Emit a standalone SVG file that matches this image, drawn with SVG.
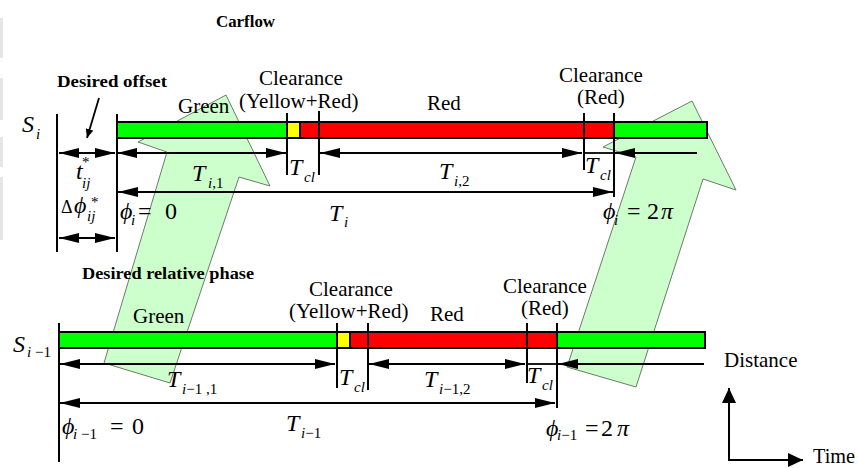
<svg xmlns="http://www.w3.org/2000/svg" width="858" height="468" viewBox="0 0 858 468">
<defs>
<marker id="ah" markerUnits="userSpaceOnUse" markerWidth="20" markerHeight="10" refX="20" refY="5" orient="auto-start-reverse"><path d="M0,0 L20,5 L0,10 z" fill="#000"/></marker>
<marker id="ax" markerUnits="userSpaceOnUse" markerWidth="15" markerHeight="14" refX="15" refY="7" orient="auto-start-reverse"><path d="M0,0 L15,7 L0,14 z" fill="#000"/></marker>
<marker id="sm" markerUnits="userSpaceOnUse" markerWidth="9" markerHeight="8" refX="9" refY="4" orient="auto"><path d="M0,0 L9,4 L0,8 z" fill="#000"/></marker>
<style>
.t{font-family:"Liberation Serif","Times New Roman","DejaVu Serif",serif;font-size:21px;fill:#000}
.b{font-family:"Liberation Serif","Times New Roman","DejaVu Serif",serif;font-size:16px;font-weight:bold;fill:#000}
.m{font-family:"Liberation Serif","Times New Roman","DejaVu Serif",serif;font-size:24px;font-style:italic;fill:#000}
.s{font-size:15px}
.u{font-style:normal}
.big{fill:#ccffcc;stroke:#6b7b6b;stroke-width:1}
.bar{stroke:#000;stroke-width:2}
.g{fill:#00ff00}.y{fill:#ffff00}.r{fill:#ff0000}
.tk{stroke:#000;stroke-width:2;fill:none}
.dl{stroke:#000;stroke-width:1.8;fill:none}
.both{marker-start:url(#ah);marker-end:url(#ah)}
.st{marker-start:url(#ah)}
.gs{fill:#e6e6e6}
</style>
</defs>
<rect width="858" height="468" fill="#fff"/>
<g id="edge-stripes">
<rect class="gs" x="0" y="18" width="3" height="40"/>
<rect class="gs" x="0" y="78" width="3" height="42"/>
<rect class="gs" x="0" y="137" width="3" height="30"/>
<rect class="gs" x="0" y="177" width="3" height="63"/>
</g>
<g id="flow-arrow-left"><polygon class="big" points="226,95 270,186 239,177 170,383 104,363 167,152 138,142"/></g>
<g id="flow-arrow-right"><polygon class="big" points="692,101 736,190 703,179 636,387 567,367 636,157 603,147"/></g>

<g id="signal-i">
<rect class="g" x="117" y="122" width="170" height="16"/>
<rect class="y" x="287" y="122" width="13" height="16"/>
<rect class="r" x="300" y="122" width="315" height="16"/>
<rect class="g" x="615" y="122" width="92" height="16"/>
<line class="bar" x1="300" y1="122" x2="300" y2="138" stroke-width="1.5"/>
<rect class="bar" x="117" y="122" width="590" height="16" fill="none"/>
</g>
<g id="signal-i-1">
<rect class="g" x="59" y="332" width="278" height="16"/>
<rect class="y" x="337" y="332" width="13" height="16"/>
<rect class="r" x="350" y="332" width="207" height="16"/>
<rect class="g" x="557" y="332" width="148" height="16"/>
<line class="bar" x1="350" y1="332" x2="350" y2="348" stroke-width="1.5"/>
<rect class="bar" x="59" y="332" width="646" height="16" fill="none"/>
</g>

<g id="ticks">
<line class="tk" x1="57" y1="114" x2="57" y2="252"/>
<line class="tk" x1="117" y1="114" x2="117" y2="252"/>
<line class="tk" x1="287" y1="113" x2="287" y2="175"/>
<line class="tk" x1="319" y1="111" x2="319" y2="175"/>
<line class="tk" x1="584" y1="113" x2="584" y2="170"/>
<line class="tk" x1="614" y1="113" x2="614" y2="197"/>
<line class="tk" x1="59" y1="323" x2="59" y2="462"/>
<line class="tk" x1="337" y1="323" x2="337" y2="388"/>
<line class="tk" x1="368" y1="323" x2="368" y2="390"/>
<line class="tk" x1="527" y1="323" x2="527" y2="383"/>
<line class="tk" x1="557" y1="323" x2="557" y2="408"/>
</g>

<g id="connectors">
<line class="dl both" x1="59" y1="153" x2="115" y2="153"/>
<line class="dl both" x1="117" y1="153" x2="286" y2="153"/>
<line class="dl both" x1="320" y1="153" x2="582" y2="153"/>
<line class="dl" x1="584" y1="153" x2="614" y2="153"/>
<line class="dl st" x1="615" y1="153" x2="697" y2="153"/>
<line class="dl both" x1="118" y1="192" x2="613" y2="192"/>
<line class="dl both" x1="59" y1="238" x2="115" y2="238"/>
<line class="dl both" x1="60" y1="364" x2="335" y2="364"/>
<line class="dl both" x1="369" y1="364" x2="525" y2="364"/>
<line class="dl" x1="527" y1="364" x2="557" y2="364"/>
<line class="dl st" x1="558" y1="364" x2="704" y2="364"/>
<line class="dl both" x1="60" y1="403" x2="555" y2="403"/>
<line class="dl" x1="99" y1="98" x2="87" y2="138" marker-end="url(#sm)" stroke-width="1.2"/>
<line class="tk" x1="729" y1="461" x2="729" y2="388" marker-end="url(#ax)"/>
<line class="tk" x1="728" y1="460" x2="803" y2="460" marker-end="url(#ax)"/>
</g>

<g id="labels">
<text class="b" x="216" y="27" textLength="59" lengthAdjust="spacingAndGlyphs">Carflow</text>
<text class="b" x="57" y="87" textLength="110" lengthAdjust="spacingAndGlyphs">Desired offset</text>
<text class="b" x="82" y="279" textLength="172" lengthAdjust="spacingAndGlyphs">Desired relative phase</text>

<text class="t" x="178" y="113">Green</text>
<text class="t" x="259" y="85">Clearance</text>
<text class="t" x="239" y="108">(Yellow+Red)</text>
<text class="t" x="427" y="110">Red</text>
<text class="t" x="559" y="82">Clearance</text>
<text class="t" x="577" y="104">(Red)</text>

<text class="t" x="133" y="323">Green</text>
<text class="t" x="309" y="296">Clearance</text>
<text class="t" x="289" y="318">(Yellow+Red)</text>
<text class="t" x="430" y="321">Red</text>
<text class="t" x="503" y="293">Clearance</text>
<text class="t" x="521" y="315">(Red)</text>
<text class="t" x="724" y="367">Distance</text>
<text class="t" x="813" y="463" textLength="42" lengthAdjust="spacingAndGlyphs">Time</text>

<text class="m" x="22" y="132">S<tspan class="s" x="36" y="139">i</tspan></text>
<text class="m" x="76" y="179">t<tspan class="s u" x="82" y="167">*</tspan><tspan class="s" x="82" y="188">ij</tspan></text>
<text class="m" x="61" y="213"><tspan class="u" style="font-size:18px">Δ</tspan><tspan x="74" y="213">ϕ</tspan><tspan class="s u" x="91" y="207">*</tspan><tspan class="s" x="87" y="221">ij</tspan></text>
<text class="m" x="120" y="219">ϕ<tspan class="s" x="131" y="225">i</tspan><tspan class="u" x="138" y="219">=</tspan><tspan class="u" x="165" y="219">0</tspan></text>
<text class="m" x="192" y="181">T<tspan class="s" x="208" y="188">i<tspan class="u">,1</tspan></tspan></text>
<text class="m" x="289" y="175">T<tspan class="s" x="304" y="182">cl</tspan></text>
<text class="m" x="439" y="179">T<tspan class="s" x="454" y="186">i<tspan class="u">,2</tspan></tspan></text>
<text class="m" x="585" y="173">T<tspan class="s" x="600" y="180">cl</tspan></text>
<text class="m" x="329" y="221">T<tspan class="s" x="344" y="227">i</tspan></text>
<text class="m" x="603" y="219">ϕ<tspan class="s" x="614" y="225">i</tspan><tspan class="u" x="627" y="219">=</tspan><tspan class="u" x="647" y="219">2</tspan><tspan x="661" y="219">π</tspan></text>

<text class="m" x="13" y="352">S<tspan class="s" x="27" y="357">i<tspan class="u"> −1</tspan></tspan></text>
<text class="m" x="167" y="387">T<tspan class="s" x="182" y="394">i<tspan class="u">−1 ,1</tspan></tspan></text>
<text class="m" x="62" y="434">ϕ<tspan class="s" x="73" y="439">i<tspan class="u"> −1</tspan></tspan><tspan class="u" x="110" y="434">=</tspan><tspan class="u" x="132" y="434">0</tspan></text>
<text class="m" x="286" y="431">T<tspan class="s" x="301" y="438">i<tspan class="u">−1</tspan></tspan></text>
<text class="m" x="339" y="385">T<tspan class="s" x="354" y="392">cl</tspan></text>
<text class="m" x="424" y="387">T<tspan class="s" x="439" y="394">i<tspan class="u">−1,2</tspan></tspan></text>
<text class="m" x="527" y="383">T<tspan class="s" x="542" y="390">cl</tspan></text>
<text class="m" x="546" y="436">ϕ<tspan class="s" x="557" y="440">i<tspan class="u">−1</tspan></tspan><tspan class="u" x="585" y="436">=</tspan><tspan class="u" x="601" y="436">2</tspan><tspan x="617" y="436">π</tspan></text>
</g>
</svg>
